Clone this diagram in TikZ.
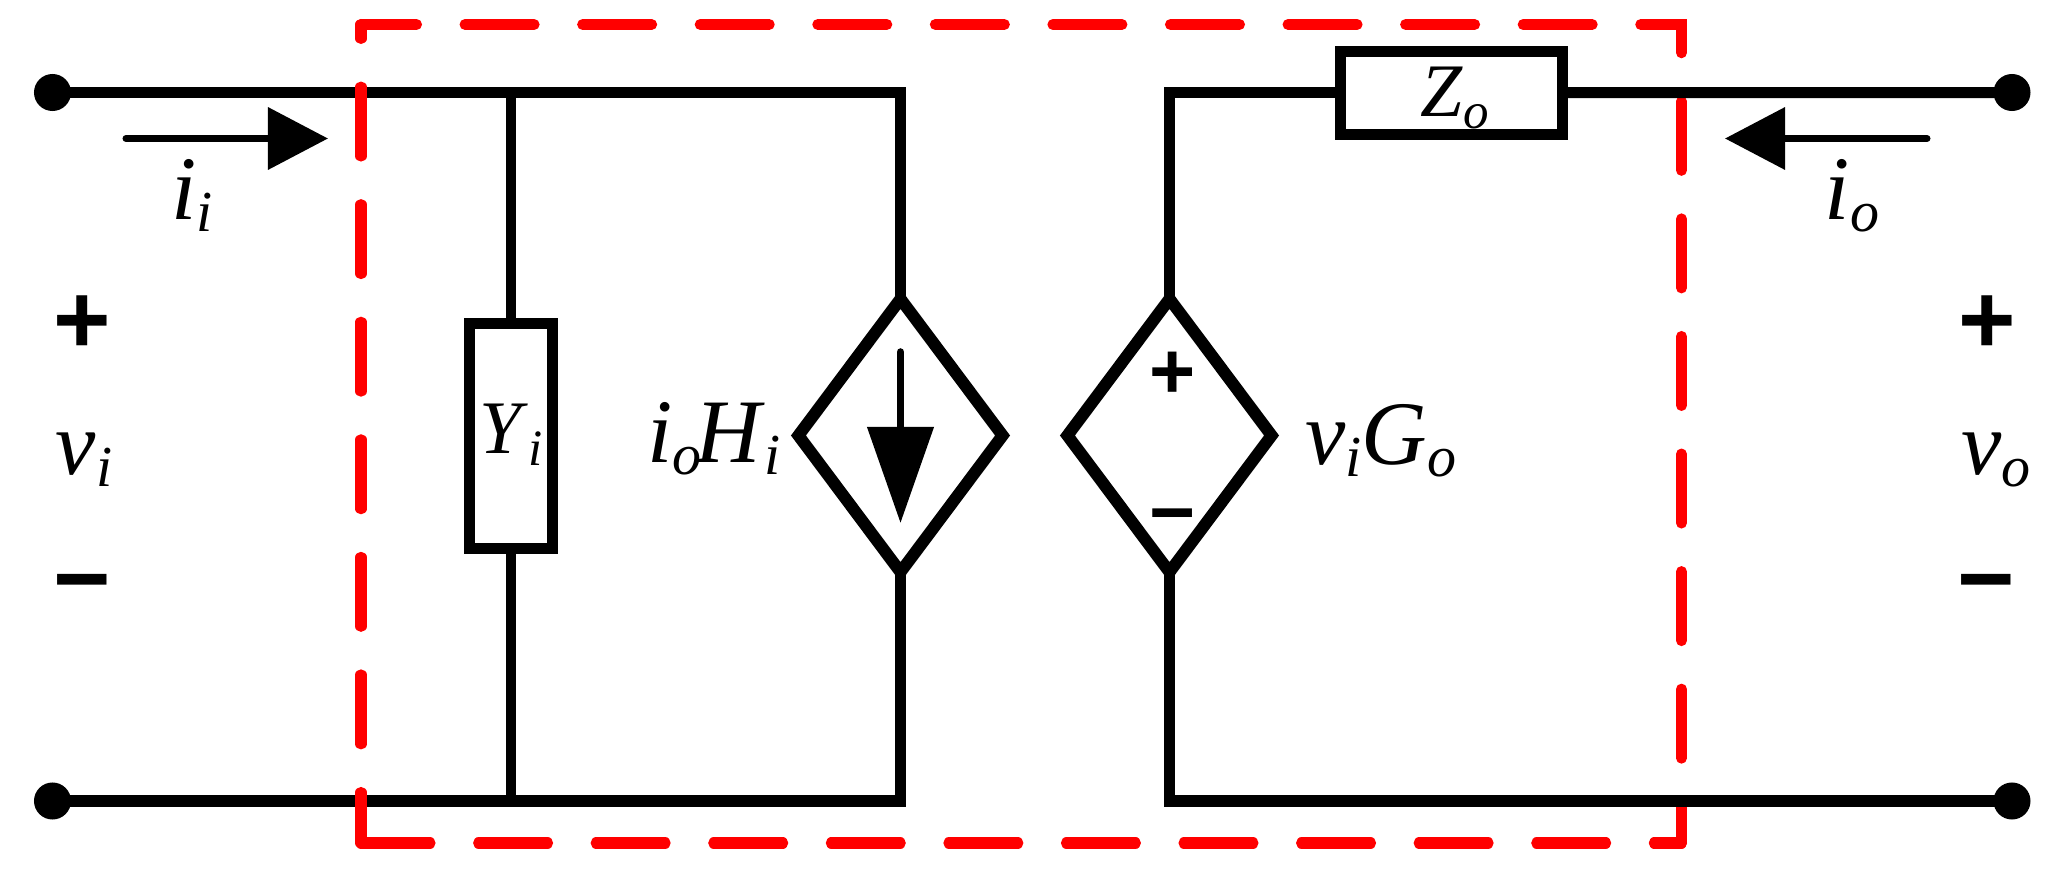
\documentclass[tikz,border=0pt]{standalone}
\usepackage{fontspec}
\setmainfont{Liberation Serif}
\newfontfamily\signfont{Liberation Sans}[BoldFont=Liberation Sans Bold]
\usetikzlibrary{shapes.geometric}
\usetikzlibrary{arrows.meta}
\newcommand{\ssub}[3][16.5]{\textit{#2}\raisebox{-3.4pt}{\fontsize{#1}{18}\selectfont\textit{#3}}}
\tikzset{
  rail/.style     = { line width=0.11cm, line join=miter },
  wire/.style     = { line width=0.095cm },
  boundary/.style = { red, line width=0.11cm, line cap=round, dash pattern=on 0.69cm off 0.485cm },
  flow/.style     = { line width=0.07cm, line cap=round, -{Triangle[length=0.6cm,width=0.61cm]} },
  inflow/.style   = { line width=0.075cm, line cap=round, -{Triangle[length=0.96cm,width=0.65cm]} },
  element/.style  = { draw, rectangle, line width=0.11cm, outer sep=0, inner sep=0, fill=white },
  source/.style   = { draw, diamond, line width=0.12cm, outer sep=0, inner sep=0, shape aspect=0.75, minimum width=2.04cm, minimum height=2.73cm },
  terminal/.style = { circle, fill=black, minimum size=0.37cm, inner sep=0, outer sep=0 },
  sign/.style     = { inner sep=0, anchor=base, font=\signfont\bfseries\fontsize{28}{30}\selectfont },
  smallsign/.style= { inner sep=0, anchor=base, font=\signfont\bfseries\fontsize{22.5}{24}\selectfont },
  tag/.style      = { inner sep=0, anchor=base, font=\fontsize{25.8}{28}\selectfont },
  smalltag/.style = { inner sep=0, anchor=base, font=\fontsize{21.5}{24}\selectfont }
}
\begin{document}
\begin{tikzpicture}[x=0.01cm,y=-0.01cm]
  \useasboundingbox (0,0) rectangle (2062,876);
  % Corners of the dashed frame
  \coordinate (boxtl) at (361,24.5);
  \coordinate (boxtr) at (1681.5,24.5);
  \coordinate (boxbr) at (1681.5,843);
  \coordinate (boxbl) at (361,843);
  \draw[boundary, dash phase=0.135cm] (boxtl) -- (boxtr) -- (boxbr);
  \draw[boundary] (boxbl) -- (boxbr);
  % Draw all elements
  \node[terminal] (tia) at (52.5,92.5) {};
  \node[terminal] (tib) at (52.5,801) {};
  \node[terminal] (toa) at (2012,92.5) {};
  \node[terminal] (tob) at (2012,801) {};
  \node[source] (hsource) at (900.5,435.5) {};
  \node[source] (gsource) at (1169.5,435.5) {};
  \node[element, minimum width=0.825cm, minimum height=2.24cm] (ybox) at (511,436) {};
  \node[element, minimum width=2.22cm, minimum height=0.825cm] (zbox) at (1451.5,92.75) {};
  % Draw the wires
  \coordinate (jya) at (ybox.north |- tia);
  \coordinate (jyb) at (ybox.south |- tib);
  \draw[rail] (tia.center) -| (hsource.north);
  \draw[rail] (tib.center) -| (hsource.south);
  \draw[rail] (toa.center) -- (zbox.east);
  \draw[rail] (zbox.west) -| (gsource.north);
  \draw[rail] (tob.center) -| (gsource.south);
  \draw[wire] (jya) -- (ybox.north);
  \draw[wire] (ybox.south) -- (jyb);
  \draw[boundary, dash phase=0.55cm] (boxtl) -- (boxbl);
  % Draw the arrows
  \coordinate (iistart) at (126,138.5);
  \coordinate (iiend) at (328,138.5);
  \coordinate (iostart) at (1927,138.5);
  \coordinate (ioend) at (1725,138.5);
  \coordinate (hstart) at (900.5,352);
  \coordinate (hend) at (900.5,523);
  \draw[flow] (iistart) -- (iiend);
  \draw[flow] (iostart) -- (ioend);
  \draw[inflow] (hstart) -- (hend);
  % Draw labels
  \node[tag] (ii) at (192,220) {\ssub{i}{i}};
  \node[tag] (io) at (1852,220) {\ssub{i}{o}};
  \node[tag] (vi) at (84,475) {\ssub{v}{i}};
  \node[tag] (vo) at (1996,475) {\ssub{v}{o}};
  \node[smalltag] (yi) at (511,454) {\ssub[14.5]{Y}{i}};
  \node[smalltag] (zo) at (1454.5,117) {\ssub[14.5]{Z}{o}};
  \node[tag] (hi) at (714,463) {\ssub{i}{o}\kern-0.6mm\ssub{H}{i}};
  \node[tag] (go) at (1381,465) {\ssub{v}{i}\ssub{G}{o}};
  \node[sign] (pi) at (82.5,354) {+};
  \node[sign] (mi) at (82,613) {−};
  \node[sign] (po) at (1987,354) {+};
  \node[sign] (mo) at (1986,613) {−};
  \node[smallsign] (pg) at (1172.5,399) {+};
  \node[smallsign] (mg) at (1172.5,539.5) {−};
\end{tikzpicture}
\end{document}
